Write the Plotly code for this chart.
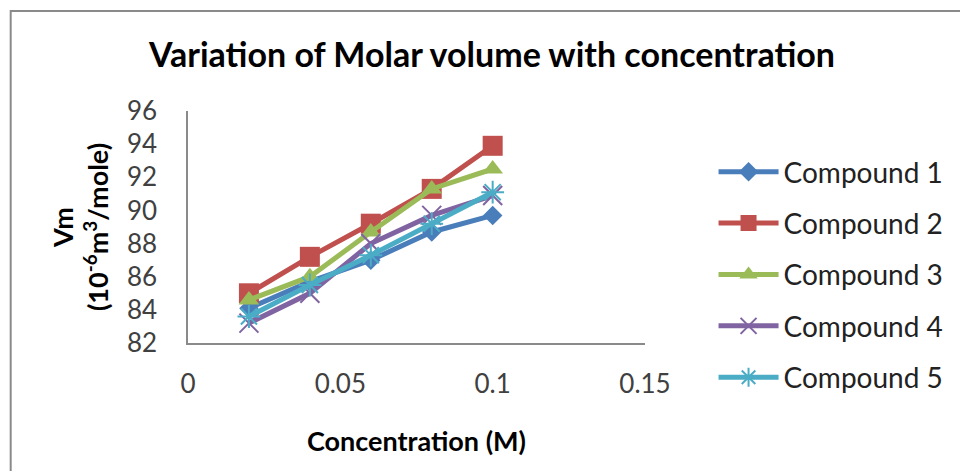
import plotly.graph_objects as go

conc = [0.02, 0.04, 0.06, 0.08, 0.10]
compound1 = [84.1, 85.7, 87.0, 88.7, 89.7]
compound2 = [85.0, 87.2, 89.2, 91.3, 93.9]
compound3 = [84.6, 86.0, 88.7, 91.3, 92.5]
compound4 = [83.2, 85.0, 88.0, 89.7, 90.9]
compound5 = [83.6, 85.5, 87.3, 89.2, 91.1]

names = ["Compound 1", "Compound 2", "Compound 3", "Compound 4", "Compound 5"]
series = [compound1, compound2, compound3, compound4, compound5]
x_ticks = [0, 0.05, 0.1, 0.15]
x_ticktext = ["0", "0.05", "0.1", "0.15"]
y_ticks = [82, 84, 86, 88, 90, 92, 94, 96]

colors = ["#4A7EBB", "#C0504D", "#9BBB59", "#8064A2", "#4BACC6"]
symbols = ["diamond", "square", "triangle-up", "x-thin-open", "asterisk-open"]
sizes = [15, 20, 18, 19, 19]

FONT = "Lato"

fig = go.Figure()
for name, vals, col, sym, sz in zip(names, series, colors, symbols, sizes):
    marker = dict(symbol=sym, size=sz, color=col)
    if sym.endswith("open"):
        marker["line"] = dict(color=col, width=2)
    fig.add_trace(go.Scatter(
        x=conc, y=vals, name=name, mode="lines+markers",
        line=dict(color=col, width=5), marker=marker,
        legendgroup=name,
    ))

fig.update_layout(
    width=960, height=471,
    margin=dict(l=188, r=313, t=111, b=128),
    paper_bgcolor="white", plot_bgcolor="white",
    font=dict(family=FONT, size=26, color="#404040"),
    title=dict(text="<b>Variation of Molar volume with concentration</b>",
               x=0.5125, xanchor="center", y=0.883, yanchor="middle",
               font=dict(family=FONT, size=34, color="#000000")),
    showlegend=True,
    legend=dict(x=1.15, xanchor="left", y=0.845, yanchor="top",
                font=dict(family=FONT, size=28, color="#222222"),
                tracegroupgap=12, itemwidth=60, maxheight=460,
                bgcolor="rgba(0,0,0,0)"),
    shapes=[dict(type="rect", xref="paper", yref="paper",
                 x0=-0.388, x1=1.8, y0=-0.8, y1=1.431,
                 line=dict(color="#8a8a8a", width=2), fillcolor="rgba(0,0,0,0)",
                 layer="below")],
)

fig.update_xaxes(range=[0, 0.15], tickvals=x_ticks, ticktext=x_ticktext,
                 showgrid=False, zeroline=False, showline=True,
                 linecolor="#8a8a8a", linewidth=1.5, ticks="",
                 ticklabelstandoff=17,
                 tickfont=dict(size=26, color="#404040"),
                 title=dict(text="<b>Concentration (M)</b>", standoff=34,
                            font=dict(size=27, color="#000000")))
fig.update_yaxes(range=[82, 96], tickvals=y_ticks,
                 showgrid=False, zeroline=False, showline=True,
                 linecolor="#8a8a8a", linewidth=1.5, ticks="",
                 ticklabelstandoff=24,
                 tickfont=dict(size=26, color="#404040"),
                 title=dict(text="<b>Vm<br>(10<sup>-6</sup>m<sup>3</sup>/mole)</b>",
                            standoff=10, font=dict(size=27, color="#000000")))

fig.write_html("out.html")
